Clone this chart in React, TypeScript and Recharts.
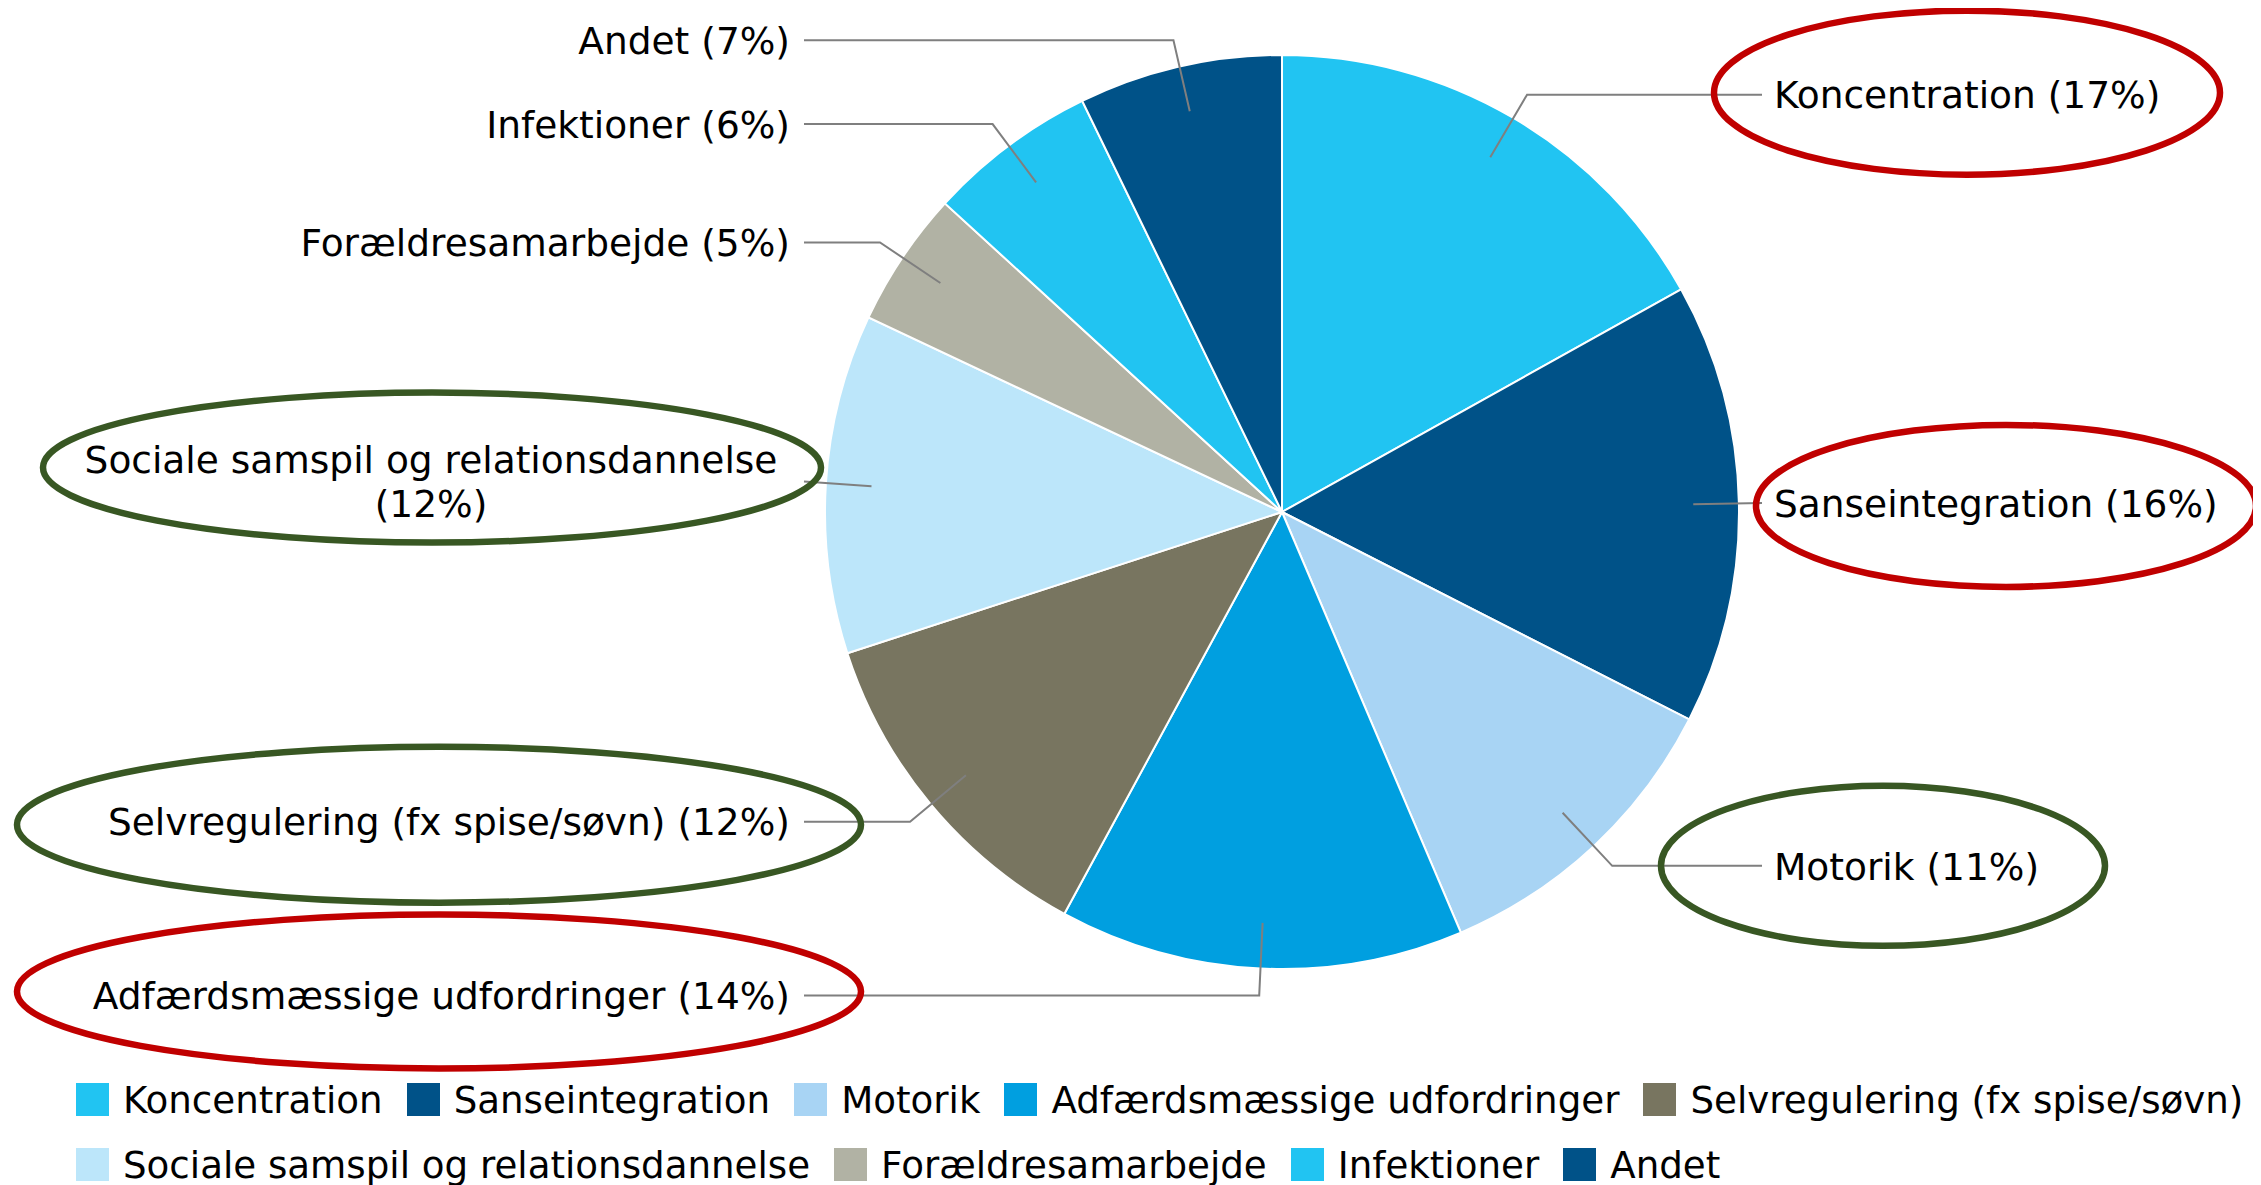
import React from "react";
import { PieChart, Pie, Legend } from "recharts";

const categories = [
  "Koncentration",
  "Sanseintegration",
  "Motorik",
  "Adfærdsmæssige udfordringer",
  "Selvregulering (fx spise/søvn)",
  "Sociale samspil og relationsdannelse",
  "Forældresamarbejde",
  "Infektioner",
  "Andet",
];
const shares = [16.9, 15.6, 11.1, 14.3, 12.1, 12.0, 4.8, 6.0, 7.2];
const colors = [
  "#21C4F2",
  "#005288",
  "#A8D4F4",
  "#009FE0",
  "#787560",
  "#BCE6FA",
  "#B1B2A4",
  "#21C4F2",
  "#005288",
];

// hand-drawn rings from the original slide, placed relative to each label
const RED = "#C00000";
const GREEN = "#385723";
const rings: Record<string, { color: string; offX: number; offY: number; rx: number; ry: number }> = {
  Koncentration: { color: RED, offX: 193, offY: -2, rx: 253, ry: 82 },
  Sanseintegration: { color: RED, offX: 232, offY: 3, rx: 250, ry: 81 },
  Motorik: { color: GREEN, offX: 109, offY: 0, rx: 222, ry: 80 },
  "Sociale samspil og relationsdannelse": { color: GREEN, offX: -358, offY: -14, rx: 389, ry: 75 },
  "Selvregulering (fx spise/søvn)": { color: GREEN, offX: -351, offY: 3, rx: 422, ry: 78 },
  "Adfærdsmæssige udfordringer": { color: RED, offX: -351, offY: -4, rx: 422, ry: 77 },
};

const data = categories.map((name, i) => ({ name, value: shares[i], fill: colors[i] }));

const FONT = "'DejaVu Sans', Verdana, sans-serif";
const FS = 37.5;
const LEGEND_FS = 37.2;
const RAD = Math.PI / 180;
const RIGHT_TEXT_X = 1766;
const RIGHT_LINE_END = 1754;
const LEFT_TEXT_X = 782;
const LEFT_LINE_END = 796;
const LEGEND_ROW_BREAK = 5;

const renderLabel = (props: any) => {
  const { cx, cy, midAngle, outerRadius, percent, name } = props;
  const cos = Math.cos(-midAngle * RAD);
  const sin = Math.sin(-midAngle * RAD);
  const sx = cx + outerRadius * 0.9 * cos;
  const sy = cy + outerRadius * 0.9 * sin;
  let ex = cx + (outerRadius + 27) * cos;
  const ey = cy + (outerRadius + 27) * sin;
  const right = cos >= 0;
  const lineEnd = right ? RIGHT_LINE_END : LEFT_LINE_END;
  ex = right ? Math.min(ex, lineEnd) : Math.max(ex, lineEnd);
  const tx = right ? RIGHT_TEXT_X : LEFT_TEXT_X;
  const pct = `(${Math.round(percent * 100)}%)`;
  const full = `${name} ${pct}`;
  const ring = rings[name];
  const base = FS * 0.365;

  let text;
  if (full.length > 40) {
    // too long for the column, break before the percentage
    const midX = right ? tx + 359 : tx - 359;
    text = (
      <text fontFamily={FONT} fontSize={FS} fill="#000" textAnchor="middle">
        <tspan x={midX} y={ey - 22 + base}>{name}</tspan>
        <tspan x={midX} y={ey + 22 + base}>{pct}</tspan>
      </text>
    );
  } else {
    text = (
      <text
        x={tx}
        y={ey + base}
        fontFamily={FONT}
        fontSize={FS}
        fill="#000"
        textAnchor={right ? "start" : "end"}
      >
        {full}
      </text>
    );
  }

  return (
    <g>
      <path
        d={`M${sx},${sy}L${ex},${ey}L${lineEnd},${ey}`}
        stroke="#7F7F7F"
        strokeWidth={2}
        fill="none"
      />
      {text}
      {ring && (
        <ellipse
          cx={tx + ring.offX}
          cy={ey + ring.offY}
          rx={ring.rx}
          ry={ring.ry}
          fill="none"
          stroke={ring.color}
          strokeWidth={6.5}
        />
      )}
    </g>
  );
};

const renderLegend = (props: any) => {
  // keep the series order instead of the alphabetical default
  const items = [...(props.payload || [])].sort(
    (a: any, b: any) => categories.indexOf(a.value) - categories.indexOf(b.value)
  );
  const rows = [items.slice(0, LEGEND_ROW_BREAK), items.slice(LEGEND_ROW_BREAK)];
  return (
    <div style={{ fontFamily: FONT, fontSize: LEGEND_FS, color: "#000" }}>
      {rows.map((row: any[], r: number) => (
        <div
          key={r}
          style={{ display: "flex", alignItems: "center", height: 65, whiteSpace: "nowrap" }}
        >
          {row.map((it: any, i: number) => (
            <div
              key={i}
              style={{ display: "flex", alignItems: "center", marginRight: 24, flexShrink: 0 }}
            >
              <span
                style={{
                  display: "inline-block",
                  width: 33,
                  height: 33,
                  background: it.color,
                  marginRight: 14,
                }}
              />
              <span>{it.value}</span>
            </div>
          ))}
        </div>
      ))}
    </div>
  );
};

export default function App() {
  return (
    <div style={{ width: 2245, height: 1177 }}>
      <style>{"html,body{overflow:hidden}"}</style>
      <PieChart
        width={2245}
        height={1177}
        margin={{ top: 0, right: 0, bottom: 0, left: 0 }}
      >
        <Pie
          data={data}
          dataKey="value"
          nameKey="name"
          cx={1274}
          cy={504}
          outerRadius={457}
          startAngle={90}
          endAngle={-270}
          stroke="#FFFFFF"
          strokeWidth={2}
          label={renderLabel}
          labelLine={false}
          isAnimationActive={false}
        />
        <Legend
          content={renderLegend}
          wrapperStyle={{ position: "absolute", left: 68, top: 1059, width: 2240 }}
        />
      </PieChart>
    </div>
  );
}
